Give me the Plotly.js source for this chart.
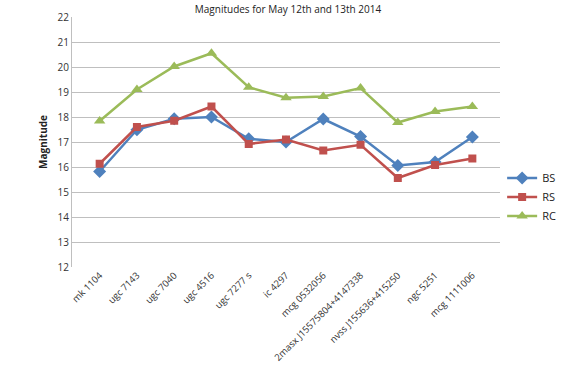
<!DOCTYPE html>
<html>
<head>
<meta charset="utf-8">
<script src="https://cdn.plot.ly/plotly-3.0.1.min.js"></script>
<style>html,body{margin:0;padding:0;background:#fff}#chart{width:576px;height:384px}</style>
</head>
<body>
<div id="chart"></div>
<script>
const categories = ["mk 1104","ugc 7143","ugc 7040","ugc 4516","ugc 7277 s","ic 4297","mcg 0532056","2masx J15575804+4147338","nvss J155636+415250","ngc 5251","mcg 1111006"];
const bsValues = [15.82,17.49,17.93,18.0,17.13,17.0,17.92,17.22,16.06,16.2,17.2];
const rsValues = [16.13,17.6,17.85,18.42,16.92,17.1,16.66,16.89,15.56,16.08,16.34];
const rcValues = [17.84,19.1,20.02,20.55,19.19,18.77,18.82,19.16,17.78,18.22,18.42];
const yTicks = [12,13,14,15,16,17,18,19,20,21,22];

const mk = (name, y, color, symbol, size) => ({
  type: 'scatter', mode: 'lines+markers', name: name, x: categories, y: y,
  line: {color: color, width: 2.5},
  marker: {color: color, symbol: symbol, size: size}
});

const data = [
  mk('BS', bsValues, '#4F81BD', 'diamond', 10),
  mk('RS', rsValues, '#C0504D', 'square', 8),
  mk('RC', rcValues, '#9BBB59', 'triangle-up', 10)
];

const layout = {
  width: 576, height: 384,
  margin: {l: 72, r: 76, t: 17, b: 117, pad: 0},
  paper_bgcolor: '#fff', plot_bgcolor: '#fff',
  font: {family: '"Open Sans", "Liberation Sans", sans-serif', size: 9.5, color: '#333'},
  title: {text: 'Magnitudes for May 12th and 13th 2014', x: 0.5, xanchor: 'center', y: 0.985, yanchor: 'top', font: {size: 10, color: '#222'}},
  xaxis: {
    type: 'category', tickangle: -45, showgrid: false, zeroline: false,
    showline: false, ticks: '', tickfont: {size: 9.5, color: '#333'}
  },
  yaxis: {
    range: [12, 22], tickvals: yTicks, showgrid: true, gridcolor: '#BFBFBF', gridwidth: 1,
    zeroline: false, showline: true, linecolor: '#BFBFBF', linewidth: 1,
    ticks: '', ticklen: 0, tickfont: {size: 10, color: '#333'},
    title: {text: '<b>Magnitude</b>', font: {size: 10, color: '#222'}, standoff: 8}
  },
  legend: {x: 1.005, xanchor: 'left', y: 0.28, yanchor: 'middle', font: {size: 11, color: '#222'},
    tracegroupgap: 0, itemwidth: 30, bgcolor: 'rgba(0,0,0,0)'},
  showlegend: true
};

Plotly.newPlot('chart', data, layout, {displayModeBar: false, staticPlot: true});
</script>
</body>
</html>
